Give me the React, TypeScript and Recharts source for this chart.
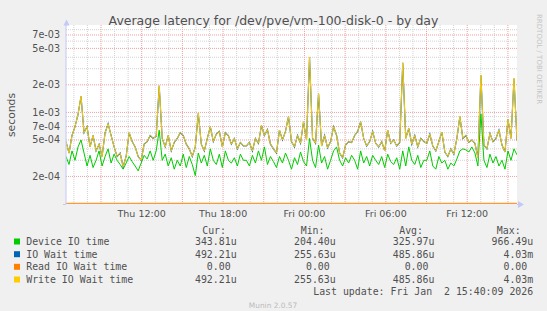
import React from 'react';
import { LineChart, Line, XAxis, YAxis, CartesianGrid } from 'recharts';

// Hours since Thu 00:00 shown on the x axis (graph covers ~33h, ending Fri 15:40)
const T_START = 6.42;
const T_END = 39.67;

// log axis range in seconds
const Y_MIN = 1e-4;
const Y_MAX = 9e-3;

// latency samples in microseconds, left to right
const deviceIo = [
  330, 270, 380, 300, 420, 500, 360, 260, 340, 250, 300, 380, 260, 330, 400, 280, 350, 300, 270, 240, 280, 330, 290, 260, 230, 280, 340, 310, 380, 300,
  380, 640, 300, 350, 260, 320, 240, 300, 260, 350, 250, 330, 270, 204, 360, 280, 340, 260, 400, 300, 270, 350, 250, 380, 300, 280, 320, 260, 350, 300,
  300, 260, 340, 280, 380, 300, 420, 270, 330, 290, 250, 330, 280, 360, 300, 240, 320, 270, 370, 290, 260, 520, 300, 250, 440, 280, 330, 240, 300, 380,
  420, 300, 260, 320, 280, 340, 300, 240, 380, 280, 330, 260, 340, 300, 270, 330, 250, 350, 290, 270, 320, 240, 380, 260, 420, 300, 270, 340, 250, 300,
  300, 380, 260, 240, 330, 280, 300, 240, 280, 260, 310, 380, 400, 390, 370, 420, 360, 260, 966, 300, 250, 350, 280, 330, 260, 300, 240, 380, 300, 400, 344,
];

const writeWait = [
  480, 360, 560, 700, 950, 1500, 600, 700, 420, 560, 380, 450, 330, 600, 750, 560, 420, 330, 360, 256, 330, 600, 480, 420, 330, 300, 450, 480, 560, 520,
  550, 1950, 520, 420, 560, 380, 470, 520, 600, 560, 450, 400, 330, 420, 980, 450, 380, 520, 700, 480, 580, 620, 420, 600, 560, 450, 520, 400, 470, 430,
  430, 470, 380, 520, 460, 720, 560, 650, 450, 400, 360, 640, 500, 620, 900, 480, 420, 560, 460, 790, 500, 4030, 520, 460, 1600, 430, 560, 410, 480, 700,
  560, 360, 320, 440, 480, 470, 560, 620, 790, 520, 430, 480, 620, 460, 420, 480, 380, 640, 460, 500, 430, 470, 3480, 520, 670, 450, 560, 420, 520, 480,
  460, 580, 430, 380, 480, 610, 370, 330, 400, 350, 520, 900, 520, 560, 470, 500, 460, 320, 2550, 440, 400, 590, 480, 520, 640, 440, 370, 840, 520, 2350, 492,
];

// reads are all zero, so total IO wait is the same as write wait
const readWait = writeWait.map(() => 0);
const ioWait = writeWait;

const seriesNames = ['Device IO time', 'IO Wait time', 'Read IO Wait time', 'Write IO Wait time'];
const seriesColors = ['#00CC00', '#0066B3', '#FF8000', '#FFCC00'];
const curValues = ['343.81u', '492.21u', '0.00 ', '492.21u'];
const minValues = ['204.40u', '255.63u', '0.00 ', '255.63u'];
const avgValues = ['325.97u', '485.86u', '0.00 ', '485.86u'];
const maxValues = ['966.49u', '4.03m', '0.00 ', '4.03m'];

const yTicks = [2e-4, 5e-4, 7e-4, 1e-3, 2e-3, 5e-3, 7e-3];
const yMinor = [3e-4, 4e-4, 6e-4, 8e-4, 9e-4, 3e-3, 4e-3, 6e-3, 8e-3];
const xTickHours = [12, 18, 24, 30, 36];
const xTickLabels = ['Thu 12:00', 'Thu 18:00', 'Fri 00:00', 'Fri 06:00', 'Fri 12:00'];
const majorHours = [9, 12, 15, 18, 21, 24, 27, 30, 33, 36, 39];
const minorHours = [7, 8, 10, 11, 13, 14, 16, 17, 19, 20, 22, 23, 25, 26, 28, 29, 31, 32, 34, 35, 37, 38];

const step = (T_END - T_START) / (deviceIo.length - 1);
const chartData = deviceIo.map((d, i) => ({
  t: T_START + i * step,
  device: d * 1e-6,
  wait: ioWait[i] * 1e-6,
  // rrdtool draws zero on a log scale along the bottom edge
  read: Math.max(readWait[i] * 1e-6, Y_MIN),
  write: writeWait[i] * 1e-6,
}));

const fmtExp = (v: number) => {
  const [m, e] = v.toExponential(0).split('e');
  return `${m}e${e[0]}${e.slice(1).padStart(2, '0')}`;
};

const SANS = 'DejaVu Sans';
const MONO = 'DejaVu Sans Mono';
const TEXT = '#505050';
const AXIS = '#c4c8f8';

const valueCols = [
  { head: 'Cur:', headX: 226, x: 236.6, values: curValues },
  { head: 'Min:', headX: 324.5, x: 335.7, values: minValues },
  { head: 'Avg:', headX: 423, x: 434.4, values: avgValues },
  { head: 'Max:', headX: 520.6, x: 533.2, values: maxValues },
];

export default function App() {
  const rowY = [245, 257.7, 270.3, 283];

  return (
    <div style={{ position: 'absolute', left: 0, top: 0, width: 547, height: 311, background: '#f0f0f0' }}>
      <LineChart
        width={547}
        height={311}
        data={chartData}
        margin={{ top: 25, right: 30, left: 0, bottom: 77 }}
      >
        <CartesianGrid
          fill="#ffffff"
          stroke="#d2d2d2"
          strokeDasharray="1 1"
          horizontalValues={yMinor}
          verticalValues={minorHours}
        />
        <CartesianGrid
          fill="none"
          stroke="#f0a0a0"
          strokeDasharray="1 1"
          horizontalValues={yTicks}
          verticalValues={majorHours}
        />
        <XAxis
          type="number"
          dataKey="t"
          domain={[T_START, T_END]}
          ticks={xTickHours}
          interval={0}
          allowDataOverflow
          tickFormatter={(h) => xTickLabels[xTickHours.indexOf(h)]}
          height={30}
          axisLine={false}
          tickLine={false}
          tickSize={0}
          tickMargin={6}
          tick={{ fill: TEXT, fontSize: 9.5, fontFamily: SANS }}
        />
        <YAxis
          type="number"
          scale="log"
          domain={[Y_MIN, Y_MAX]}
          ticks={yTicks}
          interval={0}
          allowDataOverflow
          tickFormatter={fmtExp}
          width={66}
          axisLine={{ stroke: AXIS }}
          tickLine={false}
          tickSize={0}
          tickMargin={6}
          tick={{ fill: TEXT, fontSize: 9.6, fontFamily: SANS }}
        />
        <Line type="linear" dataKey="device" stroke={seriesColors[0]} strokeWidth={1} dot={false} isAnimationActive={false} />
        <Line type="linear" dataKey="wait" stroke={seriesColors[1]} strokeWidth={1.15} dot={false} isAnimationActive={false} />
        <Line type="linear" dataKey="read" stroke={seriesColors[2]} strokeOpacity={0.8} strokeWidth={2.4} dot={false} isAnimationActive={false} />
        <Line type="linear" dataKey="write" stroke={seriesColors[3]} strokeWidth={1} dot={false} isAnimationActive={false} />
      </LineChart>

      {/* title, axis arrows, legend table drawn on top */}
      <svg width={547} height={311} style={{ position: 'absolute', left: 0, top: 0, pointerEvents: 'none' }}>
        <text x={273.5} y={24.5} textAnchor="middle" fontFamily={SANS} fontSize={12.5} fill={TEXT}>
          Average latency for /dev/pve/vm-100-disk-0 - by day
        </text>
        <text x={14.5} y={115} textAnchor="middle" fontFamily={SANS} fontSize={10.8} fill={TEXT} transform="rotate(-90 14.5 115)">
          seconds
        </text>
        <text x={537} y={14} fontFamily={SANS} fontSize={7} fill="#c4c4c4" transform="rotate(90 537 14)">
          RRDTOOL / TOBI OETIKER
        </text>
        <line x1={63} y1={204.5} x2={66} y2={204.5} stroke={AXIS} />
        <line x1={517} y1={204.5} x2={519} y2={204.5} stroke={AXIS} />
        <polygon points="63.5,25.5 69.5,25.5 66.5,19.5" fill={AXIS} />
        <polygon points="518,201 518,208 524,204.5" fill={AXIS} />

        {valueCols.map((c) => (
          <text key={c.head} x={c.headX} y={233.5} textAnchor="end" fontFamily={MONO} fontSize={9.9} fill={TEXT}>
            {c.head}
          </text>
        ))}
        {seriesNames.map((name, i) => (
          <g key={name}>
            <rect x={14} y={rowY[i] - 6.5} width={6} height={6} fill={seriesColors[i]} />
            <text x={26.2} y={rowY[i]} fontFamily={MONO} fontSize={9.9} fill={TEXT}>
              {name}
            </text>
            {valueCols.map((c) => (
              <text key={c.head} x={c.x} y={rowY[i]} textAnchor="end" fontFamily={MONO} fontSize={9.9} fill={TEXT} xmlSpace="preserve" style={{ whiteSpace: 'pre' }}>
                {c.values[i]}
              </text>
            ))}
          </g>
        ))}
        <text x={533.2} y={295.3} textAnchor="end" fontFamily={MONO} fontSize={9.9} fill={TEXT} xmlSpace="preserve" style={{ whiteSpace: 'pre' }}>
          {'Last update: Fri Jan  2 15:40:09 2026'}
        </text>
        <text x={273} y={307.7} textAnchor="middle" fontFamily={SANS} fontSize={7.4} fill="#bbbbbb">
          Munin 2.0.57
        </text>
      </svg>
    </div>
  );
}
